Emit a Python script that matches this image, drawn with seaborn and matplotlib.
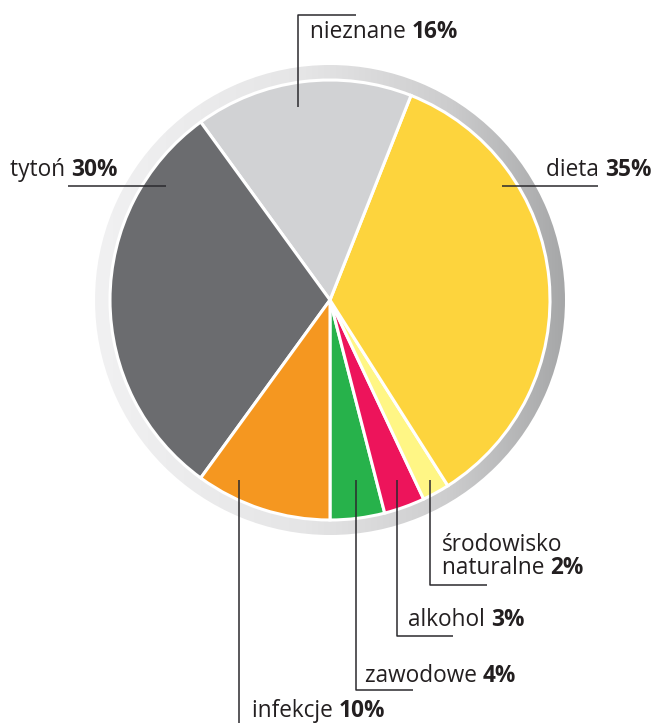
import numpy as np
import matplotlib
matplotlib.use("Agg")
import matplotlib.pyplot as plt
from matplotlib.patches import Wedge
from matplotlib.colors import LinearSegmentedColormap
import seaborn as sns

# Causes of cancer, share in percent (drawn counter-clockwise from the bottom)
categories = ["zawodowe", "alkohol", "środowisko naturalne", "dieta",
              "nieznane", "tytoń", "infekcje"]
shares = [4, 3, 2, 35, 16, 30, 10]
value_labels = ["4%", "3%", "2%", "35%", "16%", "30%", "10%"]
colors = ["#27b24b", "#ed145b", "#fff685", "#fdd43d",
          "#d1d2d4", "#6b6c6f", "#f59720"]

sns.set_theme(style="white")
plt.rcParams["font.family"] = ["Open Sans", "DejaVu Sans"]

W, H = 656, 723
fig = plt.figure(figsize=(W / 100, H / 100), dpi=100)
ax = fig.add_axes([0, 0, 1, 1])


def Y(y):
    """Top-down pixel row to data y."""
    return H - y


cx, cy = 330, Y(300)
R_pie, R_ring = 220, 235

# Grey ring around the pie with a left-to-right gradient
ring = Wedge((cx, cy), R_ring, 0, 360, width=R_ring - R_pie, facecolor="none",
             edgecolor="none")
ax.add_patch(ring)
grad_cmap = LinearSegmentedColormap.from_list(
    "ring", [(0.0, "#f1f1f2"), (0.45, "#e5e5e6"), (0.75, "#cdcdce"),
             (1.0, "#a6a7a8")])
grad = np.linspace(0, 1, 256).reshape(1, -1)
im = ax.imshow(grad, cmap=grad_cmap, aspect="auto",
               extent=(cx - R_ring, cx + R_ring, cy - R_ring, cy + R_ring),
               zorder=1)
im.set_clip_path(ring)

# The pie itself
ax.pie(shares, colors=colors, startangle=270, counterclock=True,
       center=(cx, cy), radius=R_pie, frame=True,
       wedgeprops=dict(edgecolor="white", linewidth=2.2, zorder=2))
ax.set_xlim(0, W)
ax.set_ylim(0, H)
ax.set_aspect("equal")
ax.axis("off")

line_kw = dict(color="#2b2a2e", lw=1.1, zorder=3, solid_capstyle="butt")
fs = 16.3
txt_color = "#231f20"


def label(x, y, name, value):
    t = ax.text(x, Y(y), name + " ", fontsize=fs, color=txt_color,
                va="baseline", ha="left", zorder=4)
    ax.annotate(value, xy=(1, 0), xycoords=t, va="bottom", ha="left",
                fontsize=fs, fontweight="bold", color=txt_color, zorder=4)
    return t


# Leader lines (pixel rows measured from the top)
leaders = {
    "tytoń": [(68, 185.7), (165.7, 185.7)],
    "dieta": [(501.7, 185.7), (598, 185.7)],
    "nieznane": [(298.3, 107), (298.3, 14.7), (356, 14.7)],
    "środowisko": [(430, 480), (430, 585), (487, 585)],
    "alkohol": [(396.7, 480), (396.7, 635.7), (453, 635.7)],
    "zawodowe": [(355.7, 480), (355.7, 690), (412.7, 690)],
    "infekcje": [(239.3, 480), (239.3, 723)],
}
for pts in leaders.values():
    xs = [p[0] for p in pts]
    ys = [Y(p[1]) for p in pts]
    ax.plot(xs, ys, **line_kw)

label(10, 176.5, categories[5], value_labels[5])
label(546, 176.5, categories[3], value_labels[3])
label(310, 37.5, categories[4], value_labels[4])
ax.text(442, Y(551), "środowisko", fontsize=fs, color=txt_color,
        va="baseline", ha="left", zorder=4)
label(442, 574.5, "naturalne", value_labels[2])
label(408, 626.5, categories[1], value_labels[1])
label(365, 681.7, categories[0], value_labels[0])
label(251.7, 716.7, categories[6], value_labels[6])

fig.savefig("out.png", dpi=100, facecolor="white")
